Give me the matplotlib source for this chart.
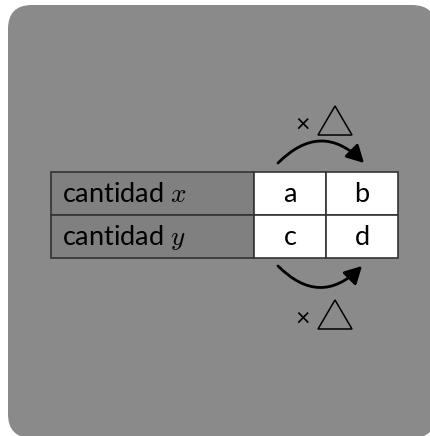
import matplotlib.pyplot as plt
from matplotlib.patches import FancyBboxPatch, Rectangle, FancyArrowPatch, Polygon

plt.rcParams["mathtext.fontset"] = "cm"

row_labels = ["cantidad $x$", "cantidad $y$"]
cells = [["a", "b"], ["c", "d"]]
ops = ["×", "×"]

W, H = 430, 436
fig = plt.figure(figsize=(W / 100, H / 100), dpi=100)
ax = fig.add_axes([0, 0, 1, 1])
ax.set_xlim(0, W)
ax.set_ylim(H, 0)
ax.axis("off")

# background card
ax.add_patch(FancyBboxPatch((8, 5), 428, 433, boxstyle="round,pad=0,rounding_size=24",
                            fc="#8a8a8a", ec="none"))

x0, xl, xa, xb = 51, 254, 326, 398
ytop, rh = 172, 43
font = "Lato"
fs = 19.5
for i, lab in enumerate(row_labels):
    y = ytop + i * rh
    ax.add_patch(Rectangle((x0, y), xl - x0, rh, fc="#808080", ec="#333333", lw=1.2))
    ax.text(x0 + 11, y + rh / 2 + 1, lab, fontsize=fs, family=font, va="center", ha="left")
    for j, (l, r) in enumerate([(xl, xa), (xa, xb)]):
        ax.add_patch(Rectangle((l, y), r - l, rh, fc="white", ec="#333333", lw=1.2))
        ax.text((l + r) / 2, y + rh / 2 + 1, cells[i][j], fontsize=fs, family=font,
                va="center", ha="center")

# arrows
ax.add_patch(FancyArrowPatch((278, 163), (364, 163), connectionstyle="arc3,rad=-0.5",
                             arrowstyle="-|>,head_length=6.5,head_width=3.5", lw=2, color="black",
                             mutation_scale=1.6, shrinkA=0, shrinkB=0))
ax.add_patch(FancyArrowPatch((278, 266), (362, 266), connectionstyle="arc3,rad=0.5",
                             arrowstyle="-|>,head_length=6.5,head_width=3.5", lw=2, color="black",
                             mutation_scale=1.6, shrinkA=0, shrinkB=0))

# operator labels with triangles
for k, ty in enumerate([106, 300]):
    ax.text(303, ty + 18, ops[k], fontsize=18, family=font, ha="center", va="center")
    ax.add_patch(Polygon([(318, ty + 29), (352, ty + 29), (335, ty)], closed=True,
                         fc="none", ec="black", lw=1.1))

fig.savefig("out.png", dpi=100)
